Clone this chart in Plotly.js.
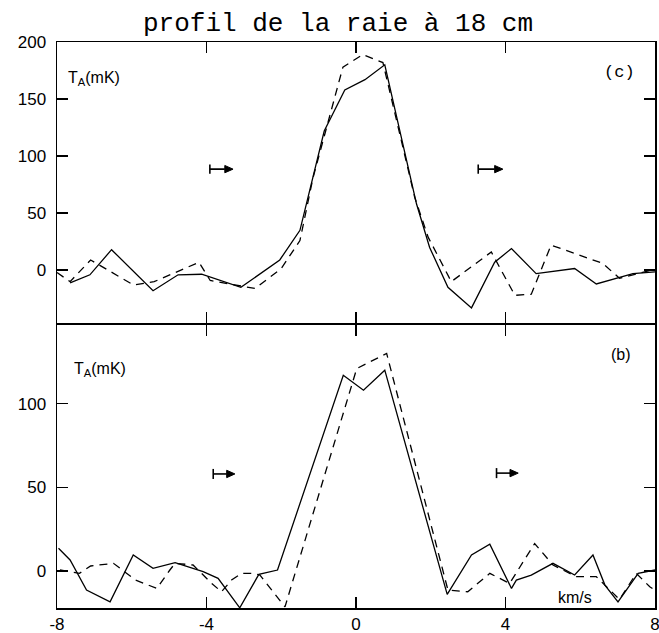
<!DOCTYPE html>
<html>
<head>
<meta charset="utf-8">
<script src="https://cdn.plot.ly/plotly-3.0.1.min.js"></script>
<style>html,body{margin:0;padding:0;background:#fff;}</style>
</head>
<body>
<div id="chart" style="width:659px;height:633px;"></div>
<script>
// Panel (c) – upper profile
var cSolidX = [-7.65, -7.12, -6.54, -5.43, -4.76, -4.13, -3.08, -2.04, -1.50, -0.85, -0.30, 0.24, 0.77, 1.62, 1.97, 2.46, 3.09, 3.71, 4.16, 4.82, 5.85, 6.43, 7.41, 8.0];
var cSolidY = [-11, -4, 18, -18, -4, -3.5, -15, 9, 35, 122, 158, 167, 180, 58, 20, -15, -33, 7, 19, -3, 1.5, -12, -3, -1.5];
var cDashX = [-8.0, -7.65, -7.1, -5.95, -5.4, -4.2, -3.9, -2.7, -2.0, -1.5, -1.15, -0.35, 0.18, 0.72, 1.57, 1.93, 2.55, 3.62, 4.25, 4.69, 5.22, 6.6, 7.05, 7.94, 8.0];
var cDashY = [-2, -10, 9, -13, -10, 7, -9, -16, 1.5, 26, 81, 178, 189, 182, 64, 29, -10, 16, -22, -21, 22, 6, -7, 0, 1];

// Panel (b) – lower profile
var bSolidX = [-7.96, -7.65, -7.21, -6.58, -5.96, -5.43, -4.84, -4.09, -3.69, -3.11, -2.6, -2.1, -0.34, 0.20, 0.77, 2.44, 3.09, 3.58, 4.16, 4.29, 4.69, 5.27, 5.85, 6.34, 6.66, 7.01, 7.55, 8.0];
var bSolidY = [13.6, 6.6, -11.4, -18.4, 9.6, 1.6, 5, -0.4, -4.4, -22, -2, 0.6, 117, 108, 120, -14, 9.6, 16, -10.4, -5.4, -2.4, 4.6, -2.4, 9.6, -8.4, -18.4, -1.4, 0.6];
var bDashX = [-7.92, -7.4, -7.1, -6.49, -5.9, -5.33, -4.98, -4.84, -4.36, -3.86, -3.6, -3.33, -3.06, -2.8, -2.57, -1.90, 0.02, 0.82, 2.46, 2.99, 3.58, 4.11, 4.78, 5.27, 5.9, 6.43, 7.05, 7.5, 7.86, 8.0];
var bDashY = [0.6, -1.4, 3, 4.6, -5.4, -10.4, 0.6, 4.6, 3.6, -7.4, -12.4, -5.4, -1.4, -1.4, -2.4, -21.4, 121, 130, -11.4, -12.4, -1.4, -7.4, 16.4, 3.6, -3.4, -3.4, -17, -1.4, -9.4, -11.4];

// Tick labels
var xTickVals = [-8, -4, 0, 4, 8];
var xTickText = ['-8', '-4', '0', '4', '8'];
var cTickVals = [0, 50, 100, 150, 200];
var cTickText = ['0', '50', '100', '150', '200'];
var bTickVals = [0, 50, 100];
var bTickText = ['0', '50', '100'];

var solidLine = {color: '#000', width: 1.3};
var dashLine = {color: '#000', width: 1.3, dash: '8px,6px'};

var traces = [
  {x: cSolidX, y: cSolidY, xaxis: 'x2', yaxis: 'y', mode: 'lines', line: solidLine, hoverinfo: 'skip'},
  {x: cDashX, y: cDashY, xaxis: 'x2', yaxis: 'y', mode: 'lines', line: dashLine, hoverinfo: 'skip'},
  {x: bSolidX, y: bSolidY, xaxis: 'x', yaxis: 'y2', mode: 'lines', line: solidLine, hoverinfo: 'skip'},
  {x: bDashX, y: bDashY, xaxis: 'x', yaxis: 'y2', mode: 'lines', line: dashLine, hoverinfo: 'skip'}
];

var tickFont = {family: '"Liberation Sans", Arial, sans-serif', size: 17, color: '#000'};
var axBase = {
  showline: true, linecolor: '#000', linewidth: 1.5, mirror: 'ticks',
  ticks: 'inside', ticklen: 11, tickwidth: 1.5, tickcolor: '#000',
  showgrid: false, zeroline: false, tickfont: tickFont, fixedrange: true,
  ticklabeloverflow: 'allow'
};
function ax(extra) { return Object.assign({}, axBase, extra); }

// "|->" marker drawn as shapes: tail bar, shaft, filled head
// dxHead / dyHead are head size in data units of the given panel
function marker(x0, x1, y, xr, yr, barH, dxHead, dyHead) {
  return [
    {type: 'line', xref: xr, yref: yr, x0: x0, x1: x0, y0: y - barH, y1: y + barH,
     line: {color: '#000', width: 1.6}},
    {type: 'line', xref: xr, yref: yr, x0: x0, x1: x1 - dxHead, y0: y, y1: y,
     line: {color: '#000', width: 1.6}},
    {type: 'path', xref: xr, yref: yr,
     path: 'M ' + (x1 - dxHead) + ' ' + (y + dyHead) + ' L ' + x1 + ' ' + y + ' L ' + (x1 - dxHead) + ' ' + (y - dyHead) + ' Z',
     fillcolor: '#000', line: {color: '#000', width: 1}}
  ];
}

var labelFont = {family: '"Liberation Sans", Arial, sans-serif', size: 16, color: '#000'};

var shapes = [].concat(
  marker(-3.91, -3.29, 88.6, 'x2', 'y', 4, 0.22, 3.2),
  marker(3.27, 3.93, 88.6, 'x2', 'y', 4, 0.22, 3.2),
  marker(-3.82, -3.24, 58, 'x', 'y2', 3, 0.22, 2.2),
  marker(3.76, 4.34, 58.5, 'x', 'y2', 3, 0.22, 2.2)
);

var layout = {
  width: 659, height: 633,
  margin: {l: 57, r: 4, t: 42, b: 25},
  paper_bgcolor: '#fff', plot_bgcolor: '#fff',
  showlegend: false,
  title: {
    text: 'profil de la raie à 18 cm',
    font: {family: '"Liberation Mono", "Courier New", monospace', size: 26, color: '#000'},
    x: 0.513, xanchor: 'center', xref: 'container',
    y: 0.966, yanchor: 'middle', yref: 'container'
  },
  xaxis: ax({domain: [0, 1], anchor: 'y2', range: [-8, 8], tickvals: xTickVals, ticktext: xTickText}),
  xaxis2: ax({domain: [0, 1], anchor: 'y', range: [-8, 8], tickvals: xTickVals, showticklabels: false}),
  yaxis: ax({domain: [0.503, 1], anchor: 'x2', range: [-46.5, 200], tickvals: cTickVals, ticktext: cTickText, ticklabelstandoff: 6}),
  yaxis2: ax({domain: [0, 0.5], anchor: 'x', range: [-22.1, 147], tickvals: bTickVals, ticktext: bTickText, ticklabelstandoff: 6}),
  annotations: [
    {text: 'T<sub>A</sub>(mK)', xref: 'x2 domain', yref: 'y domain', x: 0.015, y: 0.87, xanchor: 'left', yanchor: 'middle', showarrow: false, font: labelFont},
    {text: 'T<sub>A</sub>(mK)', xref: 'x domain', yref: 'y2 domain', x: 0.025, y: 0.843, xanchor: 'left', yanchor: 'middle', showarrow: false, font: labelFont},
    {text: '(c)', xref: 'x2 domain', yref: 'y domain', x: 0.941, y: 0.893, xanchor: 'center', yanchor: 'middle', showarrow: false, font: {family: '"Liberation Mono", monospace', size: 17, color: '#000'}},
    {text: '(b)', xref: 'x domain', yref: 'y2 domain', x: 0.943, y: 0.894, xanchor: 'center', yanchor: 'middle', showarrow: false, font: labelFont},
    {text: 'km/s', xref: 'x domain', yref: 'y2 domain', x: 0.866, y: 0.037, xanchor: 'center', yanchor: 'middle', showarrow: false, font: labelFont}
  ],
  shapes: shapes
};

Plotly.newPlot('chart', traces, layout, {displayModeBar: false, staticPlot: true});
</script>
</body>
</html>
